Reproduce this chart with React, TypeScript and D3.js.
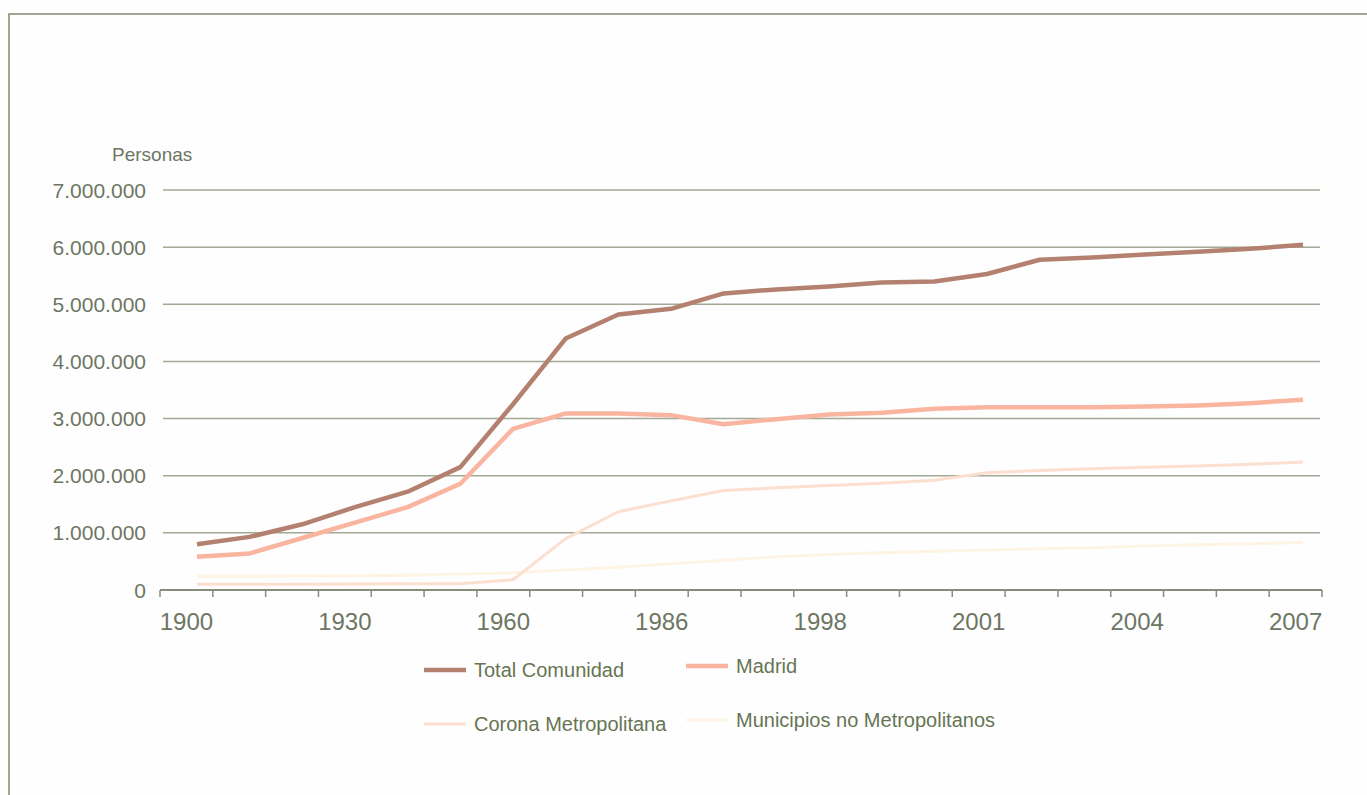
import * as d3 from "d3";
import { useEffect, useRef } from "react";

// category axis: 22 periods, only every third one gets a label
const years = [
  "1900", "1910", "1920", "1930", "1940", "1950", "1960", "1970", "1981", "1986", "1991",
  "1996", "1998", "1999", "2000", "2001", "2002", "2003", "2004", "2005", "2006", "2007",
];
const labelYears = ["1900", "1930", "1960", "1986", "1998", "2001", "2004", "2007"];

const totalComunidad = [
  800000, 930000, 1150000, 1450000, 1720000, 2150000, 3250000, 4400000, 4820000, 4920000, 5190000,
  5260000, 5310000, 5380000, 5400000, 5530000, 5780000, 5820000, 5870000, 5920000, 5970000, 6040000,
];
const madrid = [
  580000, 640000, 910000, 1180000, 1450000, 1860000, 2820000, 3090000, 3090000, 3060000, 2900000,
  2990000, 3070000, 3100000, 3170000, 3200000, 3200000, 3200000, 3210000, 3230000, 3270000, 3330000,
];
const coronaMetropolitana = [
  100000, 100000, 100000, 105000, 110000, 110000, 180000, 900000, 1370000, 1560000, 1740000,
  1790000, 1830000, 1870000, 1920000, 2050000, 2090000, 2120000, 2150000, 2170000, 2200000, 2240000,
];
const municipiosNoMetro = [
  240000, 240000, 250000, 250000, 260000, 280000, 300000, 350000, 400000, 460000, 520000,
  580000, 620000, 650000, 680000, 700000, 720000, 740000, 770000, 790000, 810000, 830000,
];

const yTicks = [0, 1000000, 2000000, 3000000, 4000000, 5000000, 6000000, 7000000];

const series = [
  { name: "Total Comunidad", values: totalComunidad, color: "#b4806f", width: 4.5 },
  { name: "Madrid", values: madrid, color: "#fab5a0", width: 4.5 },
  { name: "Corona Metropolitana", values: coronaMetropolitana, color: "#fddfd0", width: 3 },
  { name: "Municipios no Metropolitanos", values: municipiosNoMetro, color: "#fdf4e3", width: 3 },
];

const width = 1367;
const height = 795;
const plot = { left: 160, right: 1322, top: 190, bottom: 590 };
const font = "'Liberation Sans', Arial, sans-serif";
const textColor = "#6d7663";

const fmt = (v: number) => (v === 0 ? "0" : d3.format(",")(v).replace(/,/g, "."));

export default function App() {
  const svgRef = useRef<SVGSVGElement>(null);

  useEffect(() => {
    if (!svgRef.current) return;
    const svg = d3.select(svgRef.current);
    svg.selectAll("*").remove();

    svg.append("rect").attr("width", width).attr("height", height).attr("fill", "#fefefe");

    // scanned page frame
    svg.append("path")
      .attr("d", `M9,${height} L9,14 L${width},14`)
      .attr("fill", "none")
      .attr("stroke", "#7f8a70")
      .attr("stroke-width", 1.5);

    const xBand = d3.scaleBand<string>().domain(years).range([plot.left, plot.right]);
    const xLine = d3.scalePoint<string>().domain(years).range([197, 1303]);
    const y = d3.scaleLinear().domain([0, 7000000]).range([plot.bottom, plot.top]);

    // gridlines
    svg.append("g")
      .selectAll("line")
      .data(yTicks.filter((t) => t > 0))
      .join("line")
      .attr("x1", plot.left + 3)
      .attr("x2", plot.right - 2)
      .attr("y1", (d) => y(d))
      .attr("y2", (d) => y(d))
      .attr("stroke", "#a2a895")
      .attr("stroke-width", 1.5);

    // y labels
    svg.append("g")
      .selectAll("text")
      .data(yTicks)
      .join("text")
      .attr("x", 146)
      .attr("y", (d) => y(d))
      .attr("dy", "0.36em")
      .attr("text-anchor", "end")
      .attr("font-family", font)
      .attr("font-size", 21)
      .attr("fill", textColor)
      .text((d) => fmt(d));

    svg.append("text")
      .attr("x", 112)
      .attr("y", 161)
      .attr("font-family", font)
      .attr("font-size", 19)
      .attr("fill", textColor)
      .text("Personas");

    // x axis line + ticks at category boundaries
    const axis = svg.append("g");
    axis.append("line")
      .attr("x1", plot.left)
      .attr("x2", plot.right)
      .attr("y1", plot.bottom)
      .attr("y2", plot.bottom)
      .attr("stroke", "#868e7b")
      .attr("stroke-width", 2);

    const tickXs = years.map((d) => xBand(d) as number).concat([plot.right]);
    axis.selectAll("line.tick")
      .data(tickXs)
      .join("line")
      .attr("class", "tick")
      .attr("x1", (d) => d)
      .attr("x2", (d) => d)
      .attr("y1", plot.bottom)
      .attr("y2", plot.bottom + 7)
      .attr("stroke", "#868e7b")
      .attr("stroke-width", 1.5);

    axis.selectAll("text")
      .data(labelYears)
      .join("text")
      .attr("x", (d) => (xBand(d) as number) + xBand.bandwidth() / 2)
      .attr("y", 630)
      .attr("text-anchor", "middle")
      .attr("font-family", font)
      .attr("font-size", 24)
      .attr("fill", textColor)
      .text((d) => d);

    // lines, faintest first so the dark total sits on top
    const line = d3.line<number>()
      .x((_, i) => xLine(years[i]) as number)
      .y((d) => y(d));

    svg.append("g")
      .selectAll("path")
      .data([...series].reverse())
      .join("path")
      .attr("d", (s) => line(s.values))
      .attr("fill", "none")
      .attr("stroke", (s) => s.color)
      .attr("stroke-width", (s) => s.width)
      .attr("stroke-linejoin", "round");

    // legend, two columns
    const legendPos = [
      { x: 424, y: 670 },
      { x: 686, y: 666 },
      { x: 424, y: 724 },
      { x: 686, y: 720 },
    ];
    const legend = svg.append("g")
      .selectAll("g")
      .data(series)
      .join("g")
      .attr("transform", (_, i) => `translate(${legendPos[i].x},${legendPos[i].y})`);

    legend.append("line")
      .attr("x1", 0)
      .attr("x2", 42)
      .attr("stroke", (d) => d.color)
      .attr("stroke-width", (d) => d.width);

    legend.append("text")
      .attr("x", 50)
      .attr("dy", "0.36em")
      .attr("font-family", font)
      .attr("font-size", 20)
      .attr("fill", "#667553")
      .text((d) => d.name);
  }, []);

  return (
    <>
      <style>{`body{margin:0;}`}</style>
      <svg ref={svgRef} width={width} height={height} style={{ display: "block" }}></svg>
    </>
  );
}
